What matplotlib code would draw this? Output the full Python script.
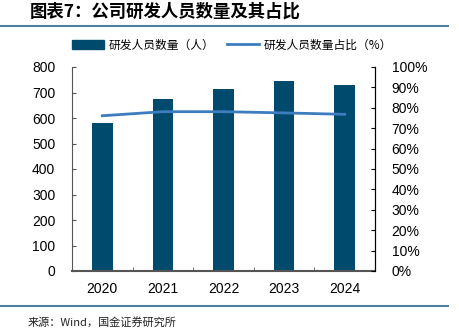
import numpy as np
import matplotlib
matplotlib.use('Agg')
import matplotlib.pyplot as plt
from matplotlib.lines import Line2D
from matplotlib.patches import Patch

plt.rcParams['font.family'] = ['Liberation Sans', 'Noto Sans CJK SC', 'DejaVu Sans']

# data
years = ['2020', '2021', '2022', '2023', '2024']
staff = [581, 676, 712, 746, 728]
share = [76.1, 78.1, 78.1, 77.5, 76.8]

bar_color = '#004a6e'
line_color = '#3d7cbf'
rule_color = '#4a7fa0'

fig = plt.figure(figsize=(4.6, 3.36), dpi=100)
ax = fig.add_axes([72 / 460, 1 - 271 / 336, 303 / 460, 204 / 336])
ax2 = ax.twinx()

x = np.arange(len(years))
ax.bar(x, staff, width=0.34, color=bar_color, zorder=2)
ax2.plot(x, share, color=line_color, lw=2)

ax.set_xlim(-0.5, len(years) - 0.5)
ax.set_ylim(0, 800)
ax.set_yticks(range(0, 801, 100))
ax2.set_ylim(0, 100)
ax2.set_yticks(range(0, 101, 10))
ax2.set_yticklabels([f'{v}%' for v in range(0, 101, 10)])

ax.set_xticks(x)
ax.set_xticklabels(years)
ax.set_xticks(x[:-1] + 0.5, minor=True)
ax.tick_params(axis='x', which='major', length=0, pad=8, labelsize=10)
ax.tick_params(axis='x', which='minor', direction='in', length=3, color='#555555')
ax.tick_params(axis='y', direction='in', length=3, pad=12, labelsize=10, color='#555555')
ax2.tick_params(axis='y', direction='in', length=3, pad=12, labelsize=10)

for a in (ax, ax2):
    a.spines['top'].set_visible(False)
ax.spines['left'].set_color('#555555')
ax.spines['bottom'].set_color('#555555')
ax.spines['bottom'].set_linewidth(1.5)
ax2.spines['left'].set_visible(False)
ax2.spines['bottom'].set_visible(False)
ax2.spines['right'].set_color('black')

cjk = ['Noto Sans CJK SC', 'DejaVu Sans']
handles = [Patch(color=bar_color), Line2D([0], [0], color=line_color, lw=2)]
labels = ['研发人员数量（人）', '研发人员数量占比（%）']
fig.legend(handles, labels, loc='center', bbox_to_anchor=(232 / 460, 1 - 45 / 336),
           ncol=2, frameon=False, prop={'family': cjk, 'size': 8.5},
           handlelength=2.7, handleheight=0.7, columnspacing=1.1, handletextpad=0.4)

fig.text(30 / 460, 1 - 12 / 336, '图表7：公司研发人员数量及其占比', family=cjk,
         fontsize=12.5, fontweight='bold', va='center', ha='left')
fig.text(28 / 460, 1 - 322 / 336, '来源：Wind，国金证券研究所', family=cjk,
         fontsize=8, va='center', ha='left', color='#222222')

for yy in (26, 306):
    fig.add_artist(Line2D([0, 448 / 460], [1 - yy / 336] * 2, color=rule_color, lw=1.5))

fig.savefig('out.png', dpi=100)
